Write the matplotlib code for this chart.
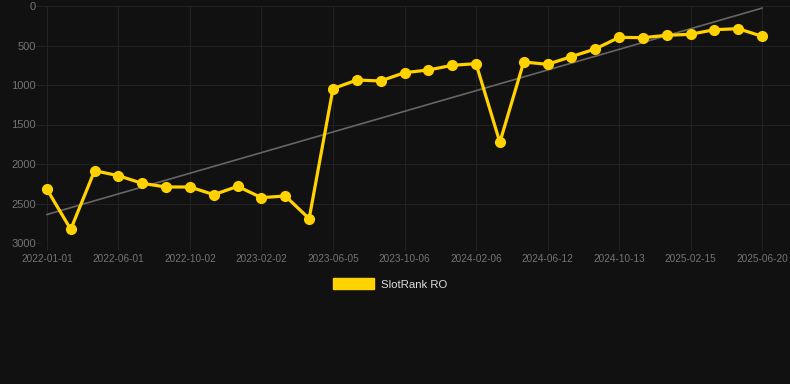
import numpy as np
import matplotlib.pyplot as plt
from matplotlib.patches import Patch

# rank values (lower is better), one point roughly every 41 days
ranks = [2320, 2827, 2085, 2148, 2245, 2291, 2291, 2388, 2283, 2426, 2405, 2692,
         1046, 937, 949, 844, 810, 751, 730, 1725, 709, 738, 641, 544,
         397, 401, 371, 358, 300, 287, 384]
# labels shown on every third point
tick_labels = ["2022-01-01", "2022-06-01", "2022-10-02", "2023-02-02", "2023-06-05",
               "2023-10-06", "2024-02-06", "2024-06-12", "2024-10-13", "2025-02-15",
               "2025-06-20"]
y_ticks = [0, 500, 1000, 1500, 2000, 2500, 3000]
series_name = "SlotRank RO"

bg = "#111111"
yellow = "#FFD200"

plt.rcParams['font.family'] = ['Liberation Sans', 'DejaVu Sans']

fig = plt.figure(figsize=(7.9, 3.84), dpi=100, facecolor=bg)
ax = fig.add_axes([40/790, 1 - 243/384, 750/790, 237/384])
ax.set_facecolor(bg)

x = np.arange(len(ranks))
y = np.array(ranks)

# trend line
b1, b0 = np.polyfit(x, y, 1)
ax.plot(x, b0 + b1 * x, color="#666666", linewidth=1.2, zorder=2)

ax.plot(x, y, color=yellow, linewidth=2.3, marker="o", markersize=7,
        zorder=3, clip_on=False)

ax.set_xlim(-0.29, 31.17)
ax.set_ylim(3000, 0)
ax.set_yticks(y_ticks)
ax.set_yticklabels([str(v) for v in y_ticks])
ax.set_xticks(x[::3])
ax.set_xticklabels(tick_labels)

ax.grid(True, color="#222222", linewidth=0.8)
ax.set_axisbelow(True)
for s in ax.spines.values():
    s.set_visible(False)
ax.tick_params(axis="both", colors="#222222", labelcolor="#747474",
               length=5, width=0.8)
ax.tick_params(axis="x", pad=3, labelsize=7.2)
ax.tick_params(axis="y", pad=0, labelsize=8, length=3)

handle = Patch(facecolor=yellow, edgecolor=yellow)
fig.legend([handle], [series_name], loc="center",
           bbox_to_anchor=(390/790, 1 - 284/384), frameon=False,
           fontsize=8.2, labelcolor="#dddddd", handlelength=3.6,
           handleheight=1.05, handletextpad=0.55)

fig.savefig("out.png", dpi=100, facecolor=bg)
